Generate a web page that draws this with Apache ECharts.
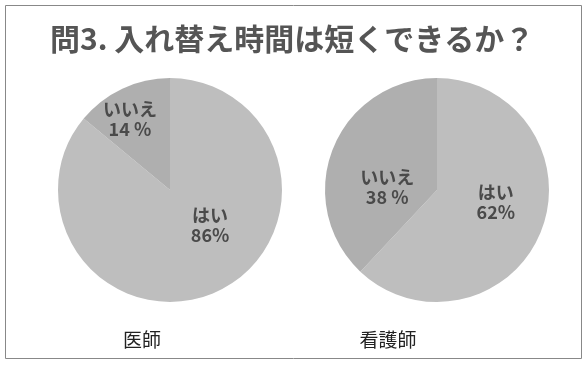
<!DOCTYPE html>
<html>
<head>
<meta charset="utf-8">
<script src="https://cdn.jsdelivr.net/npm/echarts@6/dist/echarts.min.js"></script>
<style>
  html, body { margin: 0; padding: 0; background: #fff; }
  #chart { width: 584px; height: 367px; }
</style>
</head>
<body>
<div id="chart"></div>
<script>
// data
var titleText = '問3. 入れ替え時間は短くできるか？'
var groups = ['医師', '看護師']
var answers = ['はい', 'いいえ']
var doctorValues = [86, 14]
var nurseValues = [62, 38]
var percentText = [['86%', '14 %'], ['62%', '38 %']]

var font = '"Noto Sans CJK JP", sans-serif'
var sliceColors = ['#bebebe', '#afafaf']
// nudge labels off the slice middle
var labelShift = [
  [[15, -18], [-15, -17]],
  [[4, -10], [5, 19]]
]

var chart = echarts.init(document.getElementById('chart'))

function makePie(values, idx, cx) {
  return {
    type: 'pie',
    radius: 112,
    center: [cx, 190],
    startAngle: 90,
    clockwise: true,
    silent: true,
    label: {
      position: 'inside',
      fontFamily: font,
      fontSize: 18,
      fontWeight: 'bold',
      lineHeight: 20,
      align: 'left',
      color: '#4a4a4a',
      formatter: function (p) {
        return p.name + '\n' + percentText[idx][p.dataIndex]
      }
    },
    labelLayout: function (p) {
      var s = labelShift[idx][p.dataIndex]
      return { dx: s[0], dy: s[1] }
    },
    itemStyle: { borderWidth: 0 },
    data: values.map(function (v, i) {
      return { name: answers[i], value: v, itemStyle: { color: sliceColors[i] } }
    })
  }
}

var option = {
  backgroundColor: '#fff',
  animation: false,
  title: [
    {
      text: groups[0],
      left: 137,
      top: 325,
      textAlign: 'center',
      textStyle: { fontFamily: font, fontSize: 19, fontWeight: 'normal', color: '#222' }
    },
    {
      text: groups[1],
      left: 383,
      top: 325,
      textAlign: 'center',
      textStyle: { fontFamily: font, fontSize: 19, fontWeight: 'normal', color: '#222' }
    }
  ],
  graphic: [
    {
      type: 'rect',
      shape: { x: 5.5, y: 5.5, width: 576, height: 353 },
      style: { fill: 'none', stroke: '#888', lineWidth: 1 },
      silent: true
    },
    {
      type: 'text',
      x: 50,
      y: 24,
      silent: true,
      style: {
        text: titleText,
        font: 'bold 30px ' + font,
        fill: '#555'
      }
    }
  ],
  series: [
    makePie(doctorValues, 0, 170),
    makePie(nurseValues, 1, 437)
  ]
}

chart.setOption(option)
</script>
</body>
</html>
